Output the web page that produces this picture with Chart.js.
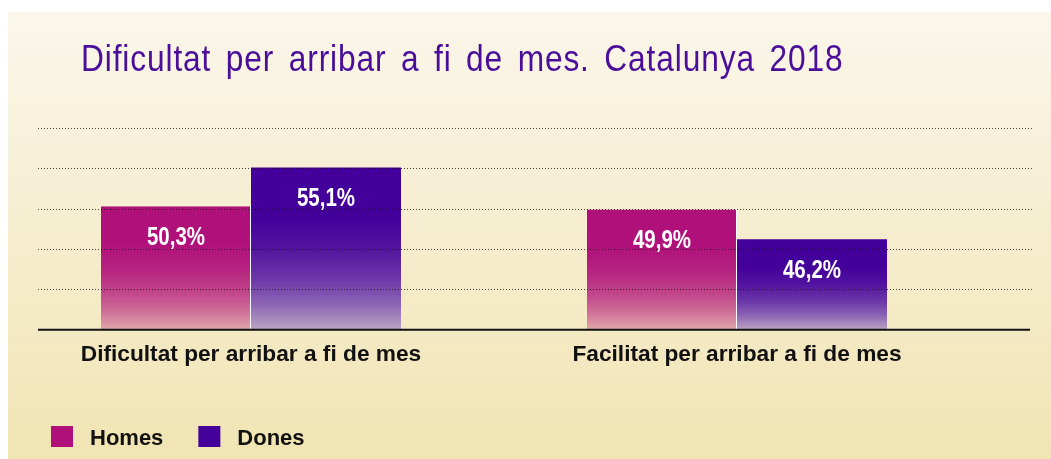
<!DOCTYPE html>
<html lang="ca">
<head>
<meta charset="utf-8">
<title>Dificultat per arribar a fi de mes. Catalunya 2018</title>
<script src="https://cdn.jsdelivr.net/npm/chart.js@4.4.1/dist/chart.umd.min.js"></script>
<style>
  html, body { margin: 0; padding: 0; background: #fff; }
</style>
</head>
<body>
<canvas id="grafic" width="1051" height="459"></canvas>
<script>
const titol = "Dificultat per arribar a fi de mes. Catalunya 2018";
const categories = ["Dificultat per arribar a fi de mes", "Facilitat per arribar a fi de mes"];
const series = ["Homes", "Dones"];
const homes = [50.3, 49.9];
const dones = [55.1, 46.2];
const ticksY = [35, 40, 45, 50, 55, 60];

const colorHomes = [176, 16, 122];
const colorHomesClar = [224, 168, 170];
const colorDones = [68, 0, 154];
const colorDonesClar = [188, 166, 196];
const lletra = "'Liberation Sans', Arial, sans-serif";

function rgb(c) {
    return "rgb(" + c.join(",") + ")";
}

function barreja(a, b, t) {
    return rgb(a.map((v, i) => Math.round(v + (b[i] - v) * t)));
}

function degradat(context, fort, clar) {
    const chart = context.chart;
    const { ctx, chartArea, scales } = chart;
    if (!chartArea || context.raw === undefined) return rgb(fort);
    const dalt = scales.y.getPixelForValue(context.raw);
    const baix = scales.y.getPixelForValue(scales.y.min);
    const g = ctx.createLinearGradient(0, dalt, 0, baix);
    [[0, 0], [0.3, 0], [0.5, 0.12], [0.7, 0.35], [0.85, 0.62], [1, 1]].forEach(([pos, t]) => {
        g.addColorStop(pos, barreja(fort, clar, t));
    });
    return g;
}

// lletra condensada simulada: escala horitzontal
function textEstret(ctx, text, x, y, escala) {
    ctx.save();
    ctx.translate(x, y);
    ctx.scale(escala, 1);
    ctx.fillText(text, 0, 0);
    ctx.restore();
}

const decoracio = {
    id: "decoracio",
    beforeDraw(chart) {
        const { ctx, width, height } = chart;
        ctx.save();
        ctx.fillStyle = "#ffffff";
        ctx.fillRect(0, 0, width, height);
        const fons = ctx.createLinearGradient(0, 12, 0, height);
        fons.addColorStop(0, "#faf6ea");
        fons.addColorStop(1, "#f1e4b3");
        ctx.fillStyle = fons;
        ctx.fillRect(8, 12, width - 8, height - 12);

        // titol
        ctx.fillStyle = "#4a0e9b";
        ctx.font = "36px " + lletra;
        ctx.letterSpacing = "1px";
        ctx.wordSpacing = "5.5px";
        ctx.textBaseline = "alphabetic";
        ctx.textAlign = "left";
        textEstret(ctx, titol, 81, 71, 0.88);
        ctx.restore();
    },
    afterDatasetsDraw(chart) {
        const { ctx, scales } = chart;
        const y = scales.y;
        ctx.save();
        // linies de punts
        ctx.strokeStyle = "rgba(20,20,20,0.8)";
        ctx.lineWidth = 1;
        ctx.setLineDash([1, 2]);
        ticksY.forEach((t) => {
            if (t === y.min) return;
            const py = Math.round(y.getPixelForValue(t)) + 0.5;
            ctx.beginPath();
            ctx.moveTo(38, py);
            ctx.lineTo(1033, py);
            ctx.stroke();
        });
        ctx.setLineDash([]);
        // linia base
        const base = y.getPixelForValue(y.min);
        ctx.strokeStyle = "#111";
        ctx.lineWidth = 2;
        ctx.beginPath();
        ctx.moveTo(38, base);
        ctx.lineTo(1030, base);
        ctx.stroke();

        // etiquetes de valor
        ctx.fillStyle = "#ffffff";
        ctx.font = "bold 25px " + lletra;
        ctx.textAlign = "center";
        ctx.textBaseline = "middle";
        chart.data.datasets.forEach((ds, i) => {
            chart.getDatasetMeta(i).data.forEach((barra, j) => {
                const text = ds.data[j].toFixed(1).replace(".", ",") + "%";
                textEstret(ctx, text, barra.x, barra.y + 32, 0.82);
            });
        });

        // llegenda
        ctx.font = "bold 22px " + lletra;
        ctx.textAlign = "left";
        ctx.textBaseline = "alphabetic";
        let x = 51;
        chart.data.datasets.forEach((ds) => {
            ctx.fillStyle = ds.colorLlegenda;
            ctx.fillRect(x, 426, 22, 21);
            ctx.fillStyle = "#111";
            ctx.fillText(ds.label, x + 39, 445);
            x += 39 + ctx.measureText(ds.label).width + 35;
        });
        ctx.restore();
    },
};

new Chart(document.getElementById("grafic"), {
    type: "bar",
    data: {
        labels: categories,
        datasets: [
            {
                label: series[0],
                data: homes,
                colorLlegenda: rgb(colorHomes),
                backgroundColor: (c) => degradat(c, colorHomes, colorHomesClar),
                borderColor: "rgba(255,255,255,0.9)",
                borderWidth: { top: 0, right: 1, bottom: 0, left: 0 },
                borderSkipped: false,
            },
            {
                label: series[1],
                data: dones,
                colorLlegenda: rgb(colorDones),
                backgroundColor: (c) => degradat(c, colorDones, colorDonesClar),
                borderWidth: 0,
            },
        ],
    },
    options: {
        responsive: false,
        animation: false,
        events: [],
        layout: {
            padding: { left: 8, right: 71, top: 128, bottom: 80 },
        },
        datasets: {
            bar: {
                categoryPercentage: 300 / 486,
                barPercentage: 1,
            },
        },
        plugins: {
            legend: { display: false },
            title: { display: false },
            tooltip: { enabled: false },
        },
        scales: {
            x: {
                grid: { display: false, drawTicks: false },
                border: { display: false },
                ticks: {
                    padding: 11,
                    color: "#111",
                    font: { family: lletra, size: 22.7, weight: "bold" },
                },
            },
            y: {
                display: false,
                min: ticksY[0],
                max: ticksY[ticksY.length - 1],
                ticks: { stepSize: 5 },
            },
        },
    },
    plugins: [decoracio],
});
</script>
</body>
</html>
